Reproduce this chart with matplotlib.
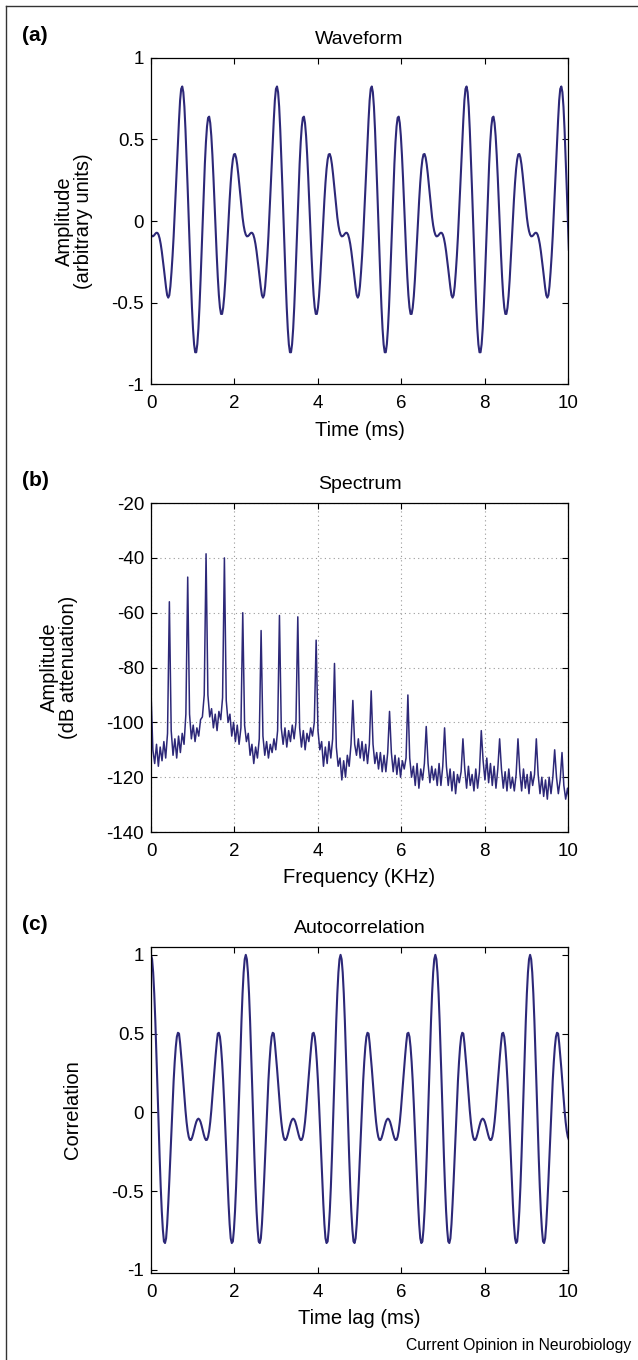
import numpy as np
import matplotlib.pyplot as plt
from matplotlib.lines import Line2D

plt.rcParams['font.family'] = ['Liberation Sans', 'DejaVu Sans']
plt.rcParams['axes.unicode_minus'] = False

# --- data ---
period_ms = 2.2727          # 440 Hz tone
n_samples = 389             # samples needed to cover 0..10 ms

# (a) waveform, one period sampled at 88 points (starts at t = 0)
wave_period = [
    -0.084, -0.094, -0.093, -0.087, -0.078, -0.072, -0.073, -0.084, -0.107, -0.141,
    -0.186, -0.239, -0.295, -0.355, -0.41, -0.455, -0.47, -0.455, -0.40, -0.315,
    -0.214, -0.095, 0.042, 0.188, 0.334, 0.48, 0.62, 0.74, 0.81, 0.825,
    0.79, 0.70, 0.56, 0.39, 0.208, 0.018, -0.176, -0.362, -0.528, -0.662,
    -0.757, -0.805, -0.805, -0.755, -0.660, -0.527, -0.363, -0.181, 0.007, 0.188,
    0.351, 0.484, 0.580, 0.633, 0.640, 0.601, 0.521, 0.405, 0.264, 0.107,
    -0.054, -0.208, -0.344, -0.454, -0.530, -0.570, -0.570, -0.532, -0.462, -0.364,
    -0.247, -0.120, 0.009, 0.130, 0.235, 0.319, 0.377, 0.408, 0.411, 0.389,
    0.347, 0.289, 0.221, 0.151, 0.083, 0.022, -0.027, -0.062,
]

# (c) autocorrelation, one period sampled at 88 points (lag 0 first)
acorr_period = [
    1.0, 0.972, 0.888, 0.755, 0.580, 0.376, 0.155, -0.070, -0.283, -0.473,
    -0.628, -0.745, -0.82, -0.83, -0.80, -0.71, -0.581, -0.435, -0.273, -0.106,
    0.055, 0.200, 0.32, 0.415, 0.48, 0.505, 0.50, 0.44, 0.362, 0.280,
    0.189, 0.098, 0.012, -0.061, -0.117, -0.155, -0.174, -0.176, -0.164, -0.141,
    -0.113, -0.085, -0.061, -0.046, -0.04, -0.046, -0.061, -0.085, -0.113, -0.141,
    -0.164, -0.176, -0.174, -0.155, -0.117, -0.061, 0.012, 0.098, 0.189, 0.280,
    0.362, 0.44, 0.50, 0.505, 0.48, 0.415, 0.32, 0.200, 0.055, -0.106,
    -0.273, -0.435, -0.581, -0.71, -0.80, -0.83, -0.82, -0.745, -0.628, -0.473,
    -0.283, -0.070, 0.155, 0.376, 0.580, 0.755, 0.888, 0.972,
]

# (b) spectrum in dB, one value every 0.044 kHz (harmonics of 0.44 kHz start each row)
spec_step_khz = 0.044
spec_db = [
    -89, -110, -115, -108, -116, -109, -114, -107, -113, -104,
    -56, -103, -112, -106, -113, -105, -111, -104, -108, -97,
    -47, -97, -106, -101, -107, -102, -105, -99, -98, -90,
    -38.5, -90, -98, -95, -102, -97, -103, -96, -99, -91,
    -40, -92, -100, -97, -105, -100, -107, -101, -108, -102,
    -60, -101, -107, -104, -112, -108, -115, -109, -113, -106,
    -66.5, -105, -112, -107, -113, -108, -111, -106, -110, -103,
    -61, -102, -108, -102, -109, -103, -107, -101, -106, -100,
    -61.5, -102, -109, -103, -110, -104, -107, -102, -105, -100,
    -70, -103, -110, -107, -116, -109, -115, -107, -113, -106,
    -78.5, -109, -116, -113, -121, -114, -120, -112, -116, -108,
    -92, -108, -112, -106, -113, -107, -114, -108, -115, -108,
    -88.5, -108, -115, -111, -117, -111, -118, -112, -118, -111,
    -96, -111, -118, -112, -119, -113, -120, -114, -117, -113,
    -90, -113, -120, -116, -123, -115, -124, -117, -121, -115,
    -101.5, -115, -122, -116, -121, -117, -123, -115, -123, -116,
    -102, -116, -123, -117, -125, -118, -126, -119, -122, -118,
    -106, -117, -124, -116, -123, -119, -125, -117, -124, -118,
    -103, -114, -121, -113, -122, -115, -123, -116, -124, -117,
    -106, -117, -124, -118, -125, -117, -124, -120, -125, -119,
    -106, -118, -125, -117, -124, -119, -126, -118, -123, -119,
    -106, -119, -126, -120, -127, -121, -128, -120, -126, -120,
    -110, -120, -126, -121, -111, -123, -128, -124, -129, -126,
]

x_ticks = [0, 2, 4, 6, 8, 10]
unit_ticks = [-1, -0.5, 0, 0.5, 1]
unit_labels = ['-1', '-0.5', '0', '0.5', '1']
db_ticks = [-140, -120, -100, -80, -60, -40, -20]

line_color = '#2d2878'
label_size = 14.5
title_size = 14
tick_size = 13.5

# the periodic traces are laid end to end over 10 ms
dt = period_ms / len(wave_period)
t = np.arange(n_samples) * dt
wave = np.array((wave_period * 5)[:n_samples])
acorr = np.array((acorr_period * 5)[:n_samples])
freq = np.arange(len(spec_db)) * spec_step_khz


def style_axes(ax):
    ax.tick_params(direction='in', top=True, right=True, length=4, width=0.8,
                   labelsize=tick_size)
    ax.tick_params(axis='x', pad=8)
    ax.tick_params(axis='y', pad=5)
    for s in ax.spines.values():
        s.set_linewidth(0.9)
    ax.set_xlim(0, 10)
    ax.set_xticks(x_ticks)


fig = plt.figure(figsize=(6.38, 13.6), dpi=100)

# (a) Waveform
ax1 = fig.add_axes([0.2367, 0.7176, 0.6536, 0.2398])
ax1.plot(t, wave, color=line_color, lw=1.5)
style_axes(ax1)
ax1.set_ylim(-1, 1)
ax1.set_yticks(unit_ticks)
ax1.set_yticklabels(unit_labels)
ax1.set_title('Waveform', fontsize=title_size, pad=10)
ax1.set_xlabel('Time (ms)', fontsize=label_size, labelpad=6)
ax1.set_ylabel('Amplitude\n(arbitrary units)', fontsize=label_size, linespacing=1.0)
ax1.yaxis.set_label_coords(-0.14, 0.5)

# (b) Spectrum
ax2 = fig.add_axes([0.2367, 0.3882, 0.6536, 0.2419])
ax2.plot(freq, spec_db, color=line_color, lw=1.1)
style_axes(ax2)
ax2.set_ylim(-140, -20)
ax2.set_yticks(db_ticks)
ax2.grid(True, linestyle=(0, (1, 3)), color='#999999', linewidth=0.8)
ax2.set_title('Spectrum', fontsize=title_size, pad=10)
ax2.set_xlabel('Frequency (KHz)', fontsize=label_size, labelpad=6)
ax2.set_ylabel('Amplitude\n(dB attenuation)', fontsize=label_size, linespacing=1.0)
ax2.yaxis.set_label_coords(-0.175, 0.5)

# (c) Autocorrelation
ax3 = fig.add_axes([0.2367, 0.0640, 0.6536, 0.2397])
ax3.plot(t, acorr, color=line_color, lw=1.5)
style_axes(ax3)
ax3.set_ylim(-1.02, 1.05)
ax3.set_yticks(unit_ticks)
ax3.set_yticklabels(unit_labels)
ax3.set_title('Autocorrelation', fontsize=title_size, pad=10)
ax3.set_xlabel('Time lag (ms)', fontsize=label_size, labelpad=6)
ax3.set_ylabel('Correlation', fontsize=label_size)
ax3.yaxis.set_label_coords(-0.165, 0.5)

# panel letters, footer and the page frame
for label, y in [('(a)', 0.974), ('(b)', 0.647), ('(c)', 0.320)]:
    fig.text(0.034, y, label, fontsize=15, fontweight='bold', va='center')
fig.text(0.99, 0.011, 'Current Opinion in Neurobiology', fontsize=11.3,
         ha='right', va='center')
fig.add_artist(Line2D([0.0095, 1.0], [0.9956, 0.9956], color='#333333', lw=1.0))
fig.add_artist(Line2D([0.0095, 0.0095], [0.0, 0.9956], color='#333333', lw=1.0))

fig.savefig('out.png', dpi=100)
